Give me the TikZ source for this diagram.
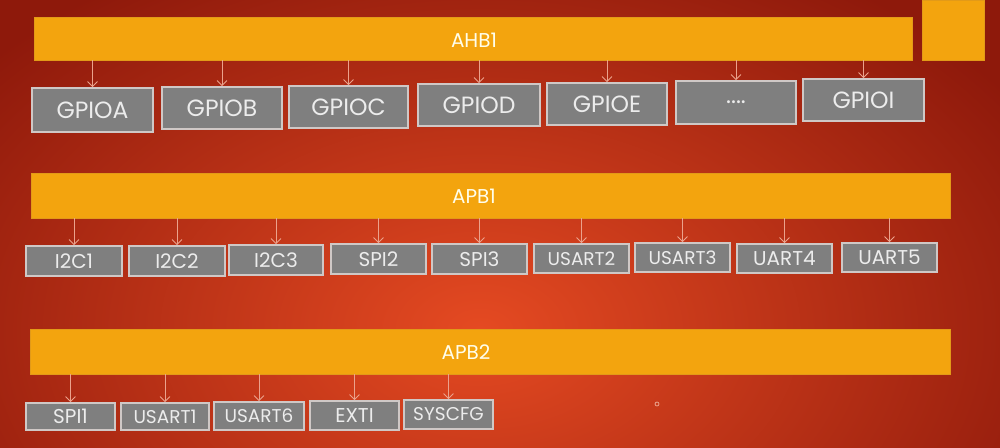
\documentclass[tikz,border=0pt]{standalone}
\usepackage{fontspec}
\setmainfont{Poppins}
\usetikzlibrary{arrows.meta}
\definecolor{bgdark}{HTML}{8E190B}
\definecolor{bgmid}{HTML}{C8321A}
\definecolor{bglight}{HTML}{E54A22}
\definecolor{barcol}{HTML}{F3A40E}
\definecolor{barline}{HTML}{E29A18}
\definecolor{boxfill}{HTML}{7F7F7F}
\definecolor{boxline}{HTML}{CFC8C6}
\definecolor{boxtext}{HTML}{ECECEC}
\definecolor{arrcol}{HTML}{EBA28C}
\tikzset{
  bus/.style={rectangle, fill=barcol, draw=barline, line width=0.8pt, inner sep=0pt, text=white!92!yellow},
  buslabel/.style={text=white!92!yellow, font=\fontsize{20}{22}\selectfont},
  periph/.style={rectangle, fill=boxfill, draw=boxline, line width=1.6pt, inner sep=0pt, text=boxtext},
  link/.style={draw=arrcol, line width=0.9pt, -{Straight Barb[length=5pt,width=10pt,line width=0.9pt]}},
  bigtxt/.style={font=\fontsize{23.5}{25}\selectfont},
  midtxt/.style={font=\fontsize{20}{22}\selectfont},
  smltxt/.style={font=\fontsize{18.5}{20}\selectfont},
}
\begin{document}
\begin{tikzpicture}[x=1pt,y=-1pt]
\useasboundingbox (0,0) rectangle (1000,447);
% background
\fill[bgdark] (0,0) rectangle (1000,447);
\begin{scope}
\clip (0,0) rectangle (1000,447);
\shade[inner color=bglight, outer color=bgdark] (480,330) ellipse [x radius=640, y radius=420];
\end{scope}
% buses
\node[bus, minimum width=878, minimum height=43] (ahb) at (473,38.5) {};
\node[buslabel] (ahbl) at (474,40) {AHB1};
\node[bus, minimum width=62, minimum height=60] (sq) at (953,30) {};
\node[bus, minimum width=919, minimum height=45] (apb1) at (490.5,195.5) {};
\node[buslabel] (apb1l) at (474,196) {APB1};
\node[bus, minimum width=920, minimum height=45] (apb2) at (490,351.5) {};
\node[buslabel] (apb2l) at (466,352) {APB2};
% AHB1 peripherals
\node[periph, bigtxt, minimum width=121, minimum height=44] (ga) at (92.5,110) {GPIOA};
\node[periph, bigtxt, minimum width=120, minimum height=42] (gb) at (222,108) {GPIOB};
\node[periph, bigtxt, minimum width=119, minimum height=42] (gc) at (348.5,107) {GPIOC};
\node[periph, bigtxt, minimum width=122, minimum height=42] (gd) at (479,105) {GPIOD};
\node[periph, bigtxt, minimum width=120, minimum height=42] (ge) at (607,104) {GPIOE};
\node[periph, bigtxt, minimum width=120, minimum height=43] (gx) at (736,102.5) {....};
\node[periph, bigtxt, minimum width=121, minimum height=42] (gi) at (863.5,100) {GPIOI};
% APB1 peripherals
\node[periph, midtxt, minimum width=96, minimum height=30] (i1) at (74,261) {I2C1};
\node[periph, midtxt, minimum width=96, minimum height=30] (i2) at (177,261) {I2C2};
\node[periph, midtxt, minimum width=94, minimum height=30] (i3) at (276,260) {I2C3};
\node[periph, midtxt, minimum width=95, minimum height=30] (s2) at (378.5,259) {SPI2};
\node[periph, midtxt, minimum width=95, minimum height=30] (s3) at (479.5,259) {SPI3};
\node[periph, smltxt, minimum width=95, minimum height=29] (u2) at (581.5,258.5) {USART2};
\node[periph, smltxt, minimum width=95, minimum height=29] (u3) at (682.5,257.5) {USART3};
\node[periph, midtxt, minimum width=95, minimum height=29] (u4) at (784.5,258.5) {UART4};
\node[periph, midtxt, minimum width=95, minimum height=29] (u5) at (889.5,257.5) {UART5};
% APB2 peripherals
\node[periph, midtxt, minimum width=89, minimum height=27] (s1) at (70.5,416.5) {SPI1};
\node[periph, smltxt, minimum width=88, minimum height=27] (u1) at (165,416.5) {USART1};
\node[periph, smltxt, minimum width=90, minimum height=28] (u6) at (259,416) {USART6};
\node[periph, midtxt, minimum width=89, minimum height=29] (ex) at (354.5,415.5) {EXTI};
\node[periph, smltxt, minimum width=89, minimum height=29] (sy) at (448.5,414.5) {SYSCFG};
% arrows
\foreach \n in {ga,gb,gc,gd,ge,gx,gi}{
  \draw[link] (\n.north |- ahb.south) -- (\n.north);
}
\foreach \n in {i1,i2,i3,s2,s3,u2,u3,u4,u5}{
  \draw[link] (\n.north |- apb1.south) -- (\n.north);
}
\foreach \n in {s1,u1,u6,ex,sy}{
  \draw[link] (\n.north |- apb2.south) -- (\n.north);
}
% small mark
\node[circle, draw=arrcol, line width=0.8pt, minimum size=4pt, inner sep=0pt] (dot) at (657,404) {};
\end{tikzpicture}
\end{document}
